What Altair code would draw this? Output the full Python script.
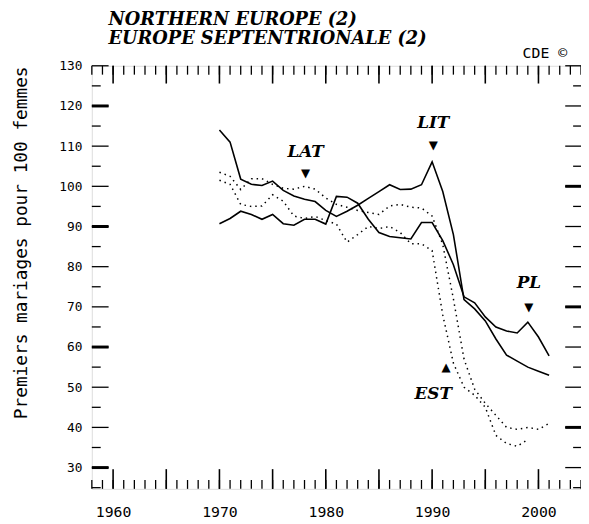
import altair as alt
import pandas as pd

# ---------------- data ----------------
years = list(range(1970, 2002))

lit = [114.0, 111.0, 101.8, 100.5, 100.2, 101.3, 99.0, 97.6, 96.8, 96.2,
       94.0, 92.5, 93.8, 95.3, 97.0, 98.7, 100.4, 99.2, 99.3, 100.4,
       106.1, 98.7, 88.0, 71.8, 69.5, 66.5, 62.0, 58.0, 56.5, 55.0,
       54.0, 53.0]

pl = [90.7, 92.0, 93.8, 93.0, 91.8, 93.0, 90.7, 90.3, 91.8, 91.8,
      90.6, 97.5, 97.3, 95.8, 91.8, 88.5, 87.5, 87.2, 86.9, 91.0,
      91.0, 86.5, 80.5, 72.5, 71.0, 67.5, 65.0, 64.0, 63.5, 66.2,
      62.5, 57.8]

lat = [103.5, 102.5, 99.2, 101.9, 101.9, 100.5, 99.5, 99.3, 100.0, 99.3,
       97.1, 95.5, 94.8, 94.0, 93.5, 93.0, 95.1, 95.5, 94.8, 94.6,
       92.6, 85.5, 72.0, 57.0, 49.5, 46.0, 43.0, 40.0, 39.5, 40.0,
       39.5, 41.0]

est = [101.5, 100.5, 95.5, 95.0, 95.1, 97.9, 96.3, 92.6, 92.0, 92.5,
       91.5, 90.6, 86.1, 88.0, 90.0, 89.5, 90.0, 88.5, 85.7, 85.7,
       84.0, 68.0, 56.0, 50.0, 48.0, 45.0, 38.0, 36.0, 35.3, 37.0,
       None, None]

x_labels = [1960, 1970, 1980, 1990, 2000]
y_labels = list(range(30, 131, 10))
x_ticks_minor = list(range(1958, 2005))
x_ticks_major = list(range(1960, 2005, 5))
y_ticks_minor = list(range(25, 130, 10))
y_ticks_major = list(range(30, 131, 10))
y_ticks_bold_left = [30, 60, 90, 120]
y_ticks_bold_right = [40, 70, 100]

label_text = ["LAT", "LIT", "PL", "EST"]
label_year = [1978.1, 1990.1, 1999.1, 1990.1]
label_value = [108.6, 115.8, 75.8, 48.4]
arrow_year = [1978.1, 1990.1, 1999.1, 1991.3]
arrow_value = [103.4, 110.2, 70.0, 55.0]
arrow_sym = ["\u25bc", "\u25bc", "\u25bc", "\u25b2"]

title_lines = ["NORTHERN EUROPE (2)", "EUROPE SEPTENTRIONALE (2)"]
y_title = "Premiers mariages pour 100 femmes"
credit_text = ["CDE \u00a9"]
credit_year = [2000.6]
credit_value = [133.1]

# ---------------- tables ----------------
def long_table(names, series):
    rows = []
    for n, s in zip(names, series):
        for yr, v in zip(years, s):
            if v is not None:
                rows.append({"year": yr, "value": v, "country": n})
    return pd.DataFrame(rows)

solid_df = long_table(["LIT", "PL"], [lit, pl])
dotted_df = long_table(["LAT", "EST"], [lat, est])

W, H = 496, 429
MONO = "DejaVu Sans Mono"
SERIF = "DejaVu Serif"

xs = alt.Scale(domain=[1958, 2004], nice=False, zero=False)
ys = alt.Scale(domain=[24.7, 130], nice=False, zero=False)

X = alt.X("year:Q", scale=xs, title=None,
          axis=alt.Axis(values=x_labels, format="d", domain=False, ticks=False,
                        grid=False, labelFont=MONO, labelFontSize=15,
                        labelPadding=16, labelColor="black"))
Y = alt.Y("value:Q", scale=ys, title=y_title,
          axis=alt.Axis(values=y_labels, domain=False, ticks=False, grid=False,
                        labelFont=MONO, labelFontSize=13, labelPadding=10,
                        labelColor="black", titleFont=MONO, titleFontSize=18,
                        titleFontWeight="normal", titleColor="black",
                        titleX=-71, titleY=179, titleAngle=270,
                        titleBaseline="middle", titleAlign="center"))

solid = alt.Chart(solid_df).mark_line(color="black", strokeWidth=1.6).encode(
    x=X, y=Y, detail="country:N")
dotted = alt.Chart(dotted_df).mark_line(color="black", strokeWidth=1.5,
                                        strokeDash=[1.5, 4]).encode(
    x=X, y=Y, detail="country:N")

xt_min = pd.DataFrame({"year": x_ticks_minor})
xt_maj = pd.DataFrame({"year": x_ticks_major})
yt_min = pd.DataFrame({"value": y_ticks_minor})
yt_maj = pd.DataFrame({"value": y_ticks_major})
yt_bl = pd.DataFrame({"value": y_ticks_bold_left})
yt_br = pd.DataFrame({"value": y_ticks_bold_right})

tick = dict(color="black")
bottom_min = alt.Chart(xt_min).mark_rule(strokeWidth=1.3, **tick).encode(
    x=X, y=alt.value(H), y2=alt.value(H - 9))
bottom_maj = alt.Chart(xt_maj).mark_rule(strokeWidth=1.6, **tick).encode(
    x=X, y=alt.value(H), y2=alt.value(H - 20))
top_min = alt.Chart(xt_min).mark_rule(strokeWidth=1.3, **tick).encode(
    x=X, y=alt.value(0), y2=alt.value(9))
top_maj = alt.Chart(xt_maj).mark_rule(strokeWidth=1.6, **tick).encode(
    x=X, y=alt.value(0), y2=alt.value(18))
left_min = alt.Chart(yt_min).mark_rule(strokeWidth=1.3, **tick).encode(
    y=Y, x=alt.value(0), x2=alt.value(9))
left_maj = alt.Chart(yt_maj).mark_rule(strokeWidth=1.3, **tick).encode(
    y=Y, x=alt.value(0), x2=alt.value(17))
left_bold = alt.Chart(yt_bl).mark_rule(strokeWidth=3, **tick).encode(
    y=Y, x=alt.value(0), x2=alt.value(17))
right_min = alt.Chart(yt_min).mark_rule(strokeWidth=1.3, **tick).encode(
    y=Y, x=alt.value(W), x2=alt.value(W - 8))
right_maj = alt.Chart(yt_maj).mark_rule(strokeWidth=1.3, **tick).encode(
    y=Y, x=alt.value(W), x2=alt.value(W - 16))
right_bold = alt.Chart(yt_br).mark_rule(strokeWidth=3, **tick).encode(
    y=Y, x=alt.value(W), x2=alt.value(W - 16))

labels_df = pd.DataFrame({"year": label_year, "value": label_value,
                          "label": label_text})
arrows_df = pd.DataFrame({"year": arrow_year, "value": arrow_value,
                          "sym": arrow_sym})
credit_df = pd.DataFrame({"year": credit_year, "value": credit_value,
                          "t": credit_text})

labels = alt.Chart(labels_df).mark_text(font=SERIF, fontStyle="italic",
                                        fontWeight="bold", fontSize=17,
                                        color="black").encode(
    x=X, y=Y, text="label:N")
arrows = alt.Chart(arrows_df).mark_text(font="DejaVu Sans", fontSize=12,
                                        color="black").encode(
    x=X, y=Y, text="sym:N")
credit = alt.Chart(credit_df).mark_text(font=MONO, fontSize=15,
                                        color="black").encode(
    x=X, y=Y, text="t:N")

chart = alt.layer(
    solid, dotted,
    bottom_min, bottom_maj, top_min, top_maj,
    left_min, left_maj, left_bold, right_min, right_maj, right_bold,
    labels, arrows, credit,
).properties(
    width=W, height=H,
    autosize=alt.AutoSizeParams(type="none"),
    padding={"left": 85, "top": 55, "right": 0, "bottom": 30},
    title=alt.TitleParams(text=title_lines, anchor="start", frame="group",
                          font=SERIF, fontStyle="italic", fontWeight="bold",
                          fontSize=18, lineHeight=20, dx=17, dy=14, offset=12,
                          color="black"),
).configure_view(stroke="black", strokeWidth=1.5).configure(background="white")

chart.save("out.html", embed_options={"renderer": "svg", "actions": False})
